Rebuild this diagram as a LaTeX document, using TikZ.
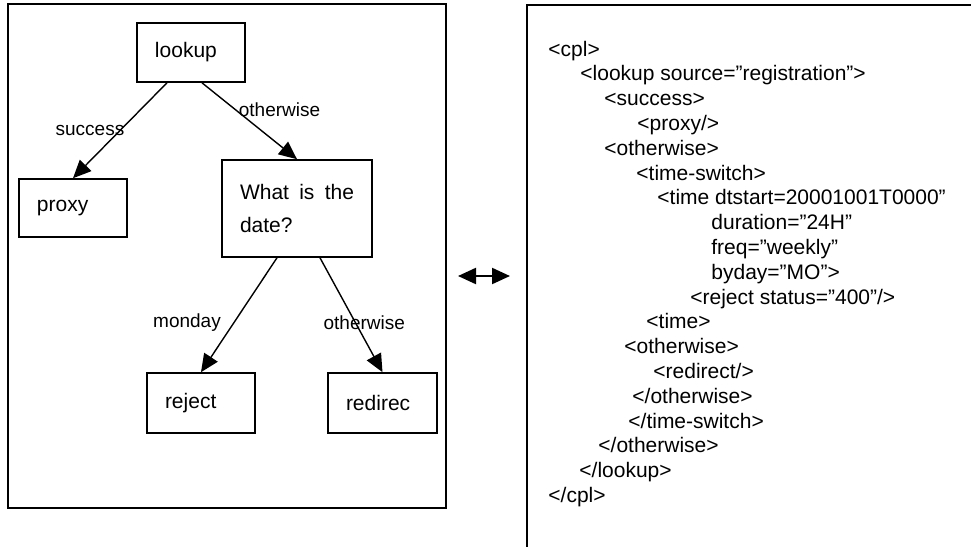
\documentclass[tikz,border=0pt]{standalone}
\usepackage{fontspec}
\setmainfont{Liberation Sans}
\usetikzlibrary{positioning,arrows.meta}

\tikzset{
  box/.style={draw, line width=0.8pt, rectangle, inner xsep=9pt, inner ysep=0pt, text width=#1, align=left},
  branch/.style={-{Triangle[length=9pt,width=8pt]}, line width=0.7pt},
  cond/.style={font=\fontsize{9.5}{11}\selectfont, inner sep=0pt},
  frame/.style={draw, line width=0.8pt},
}

\begin{document}
\begin{tikzpicture}[x=0.5pt,y=-0.5pt,font=\fontsize{10.5}{12.4}\selectfont]
\useasboundingbox (0,0) rectangle (971,547);

% decision tree
\draw[frame] (8,4) rectangle (446,508);
\node[box=36pt, minimum height=29.5pt] at (191,52.5) (lookup) {lookup};
\node[box=36pt, minimum height=29pt] at (73,208) (proxy) {proxy};
\node[box=57pt, minimum height=48.5pt, font=\fontsize{10.5}{16.5}\selectfont] at (297,208.5) (date) {What\hfill is\hfill the\\date?};
\node[box=36pt, minimum height=30pt] at (201,403) (reject) {reject};
\node[box=36.5pt, minimum height=30pt] at (382.5,403) (redirec) {redirec};

\path[branch]
([xshift=-12pt]lookup.south) edge node[cond, midway, xshift=-15pt] (succ) {success} (proxy.north)
([xshift=5.5pt]lookup.south) edge node[cond, midway, xshift=15pt, yshift=5.5pt] (other1) {otherwise} (date.north)
([xshift=-10pt]date.south) edge node[cond, midway, xshift=-26pt, yshift=-4pt] (mon) {monday} (reject.north)
([xshift=11.5pt]date.south) edge node[cond, midway, xshift=6.5pt, yshift=-4pt] (other2) {otherwise} (redirec.north)
;

% equivalence
\coordinate (eqL) at (458,276);
\coordinate (eqR) at (510,276);
\draw[{Triangle[length=9pt,width=8pt]}-{Triangle[length=9pt,width=8pt]}, line width=1.1pt] (eqL) -- (eqR);

% script
\draw[frame] (527,547) -- (527,5) -- (971,5);
\node[anchor=north west, inner sep=0pt, align=left] at (548,40.5) (cpl) {%
<cpl>\\
\hspace*{16pt}<lookup source=”registration”>\\
\hspace*{28pt}<success>\\
\hspace*{44.5pt}<proxy/>\\
\hspace*{28pt}<otherwise>\\
\hspace*{44pt}<time-switch>\\
\hspace*{54.5pt}<time dtstart=20001001T0000”\\
\hspace*{81.5pt}duration=”24H”\\
\hspace*{81.5pt}freq=”weekly”\\
\hspace*{81.5pt}byday=”MO”>\\
\hspace*{71pt}<reject status=”400”/>\\
\hspace*{49pt}<time>\\
\hspace*{38pt}<otherwise>\\
\hspace*{52.5pt}<redirect/>\\
\hspace*{42pt}</otherwise>\\
\hspace*{40pt}</time-switch>\\
\hspace*{25pt}</otherwise>\\
\hspace*{15.5pt}</lookup>\\
</cpl>};
\end{tikzpicture}
\end{document}
